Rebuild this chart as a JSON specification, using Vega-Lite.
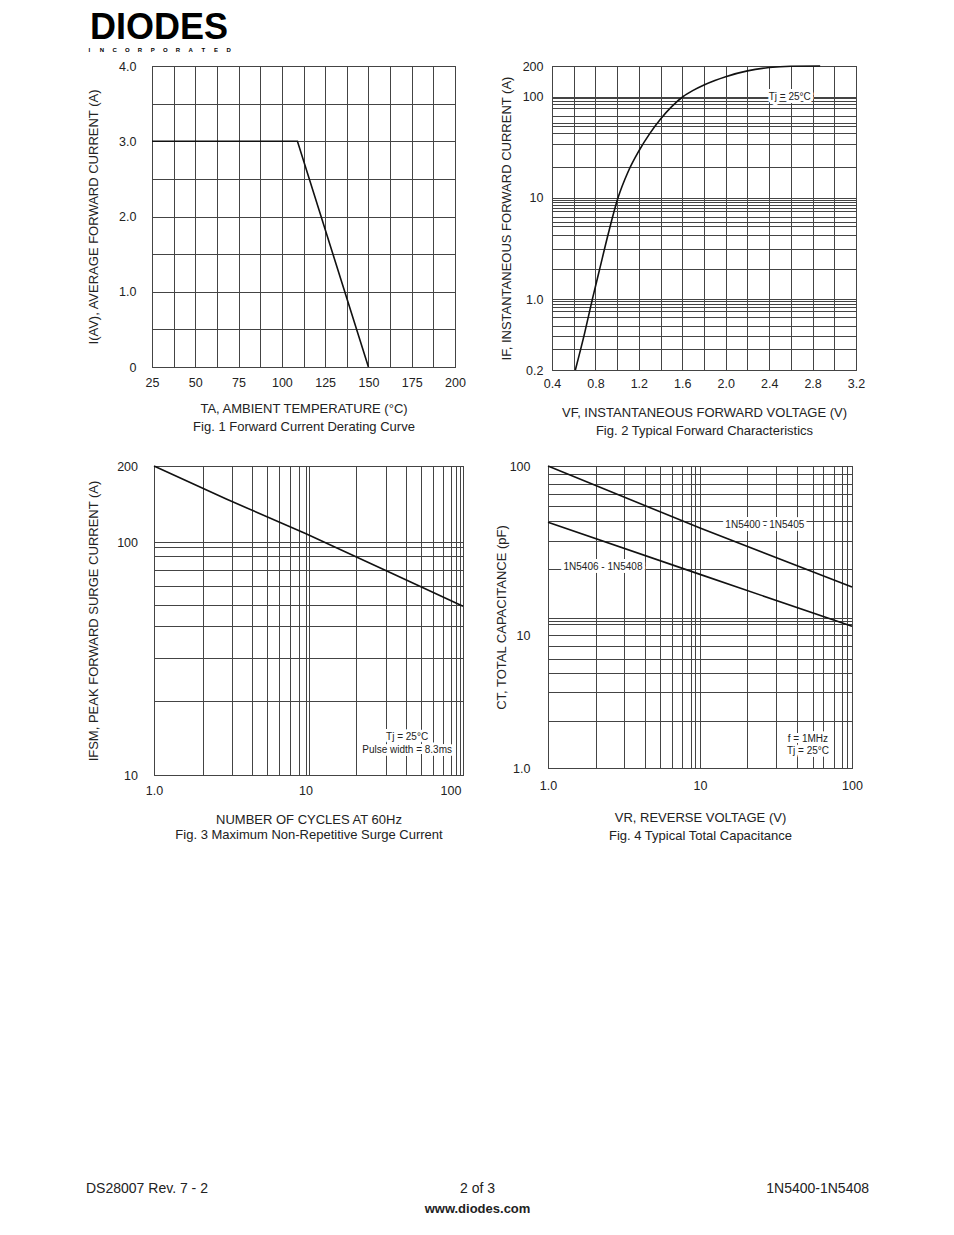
{
  "$schema": "https://vega.github.io/schema/vega-lite/v6.json",
  "padding": 0,
  "background": "white",
  "config": {
    "view": {"stroke": null},
    "font": "Liberation Sans",
    "text": {"font": "Liberation Sans"},
    "axis": {
      "domain": false,
      "ticks": false,
      "grid": true,
      "gridColor": "#444",
      "gridWidth": 1,
      "gridOpacity": 1,
      "labelFont": "Liberation Sans",
      "labelFontSize": 12.5,
      "labelColor": "#222",
      "labelFlush": false,
      "labelOverlap": false,
      "titleFont": "Liberation Sans",
      "titleFontSize": 13,
      "titleFontWeight": "normal",
      "titleColor": "#222"
    }
  },
  "datasets": {
    "header": [
      {"row": "logo", "k": 0, "text": "DIODES"},
      {"row": "sub", "k": 1, "text": "I"},
      {"row": "sub", "k": 2, "text": "N"},
      {"row": "sub", "k": 3, "text": "C"},
      {"row": "sub", "k": 4, "text": "O"},
      {"row": "sub", "k": 5, "text": "R"},
      {"row": "sub", "k": 6, "text": "P"},
      {"row": "sub", "k": 7, "text": "O"},
      {"row": "sub", "k": 8, "text": "R"},
      {"row": "sub", "k": 9, "text": "A"},
      {"row": "sub", "k": 10, "text": "T"},
      {"row": "sub", "k": 11, "text": "E"},
      {"row": "sub", "k": 12, "text": "D"}
    ],
    "footer": [
      {"pos": "left", "line": "1", "text": "DS28007 Rev. 7 - 2"},
      {"pos": "center", "line": "1", "text": "2 of 3"},
      {"pos": "right", "line": "1", "text": "1N5400-1N5408"},
      {"pos": "center", "line": "2", "text": "www.diodes.com"}
    ],
    "fig1": [
      {"temp": 25, "current": 3.0},
      {"temp": 109, "current": 3.0},
      {"temp": 150, "current": 0}
    ],
    "fig2": [
      {"vf": 0.615, "amp": 0.2},
      {"vf": 0.7, "amp": 0.46},
      {"vf": 0.772, "amp": 1.0},
      {"vf": 0.84, "amp": 2.0},
      {"vf": 0.92, "amp": 4.5},
      {"vf": 1.008, "amp": 10},
      {"vf": 1.1, "amp": 18},
      {"vf": 1.2, "amp": 29},
      {"vf": 1.3, "amp": 43},
      {"vf": 1.4, "amp": 60},
      {"vf": 1.5, "amp": 79},
      {"vf": 1.608, "amp": 100},
      {"vf": 1.7, "amp": 115},
      {"vf": 1.8, "amp": 130},
      {"vf": 1.9, "amp": 144},
      {"vf": 2.0, "amp": 157},
      {"vf": 2.2, "amp": 179},
      {"vf": 2.4, "amp": 193},
      {"vf": 2.6, "amp": 199},
      {"vf": 2.87, "amp": 200}
    ],
    "fig2_notes": [
      {"vf": 2.59, "amp": 100, "label": "Tj = 25°C"}
    ],
    "fig3": [
      {"cycles": 1, "amps": 200},
      {"cycles": 3, "amps": 148},
      {"cycles": 10, "amps": 108},
      {"cycles": 40, "amps": 73},
      {"cycles": 130, "amps": 53}
    ],
    "fig3_notes": [
      {"cycles": 50.2, "amps": 14.5, "label": "Tj = 25°C"},
      {"cycles": 50.2, "amps": 12.8, "label": "Pulse width = 8.3ms"}
    ],
    "fig4": [
      {"series": "1N5400 - 1N5405", "vr": 1, "ct": 100},
      {"series": "1N5400 - 1N5405", "vr": 10, "ct": 43},
      {"series": "1N5400 - 1N5405", "vr": 100, "ct": 19.3},
      {"series": "1N5406 - 1N5408", "vr": 1, "ct": 46.5},
      {"series": "1N5406 - 1N5408", "vr": 10, "ct": 22.9},
      {"series": "1N5406 - 1N5408", "vr": 100, "ct": 11.3}
    ],
    "fig4_notes": [
      {"vr": 26.7, "ct": 44.6, "label": "1N5400 - 1N5405"},
      {"vr": 2.3, "ct": 25.2, "label": "1N5406 - 1N5408"},
      {"vr": 51.3, "ct": 1.645, "label": "f = 1MHz"},
      {"vr": 51.3, "ct": 1.343, "label": "Tj = 25°C"}
    ]
  },
  "vconcat": [
    {
      "hconcat": [
        {"width": 86, "height": 59, "data": {"values": []}, "mark": {"type": "point", "opacity": 0}},
        {
          "width": 146,
          "height": 59,
          "data": {"name": "header"},
          "encoding": {
            "y": {"field": "row", "type": "nominal", "scale": {"type": "point", "domain": ["logo", "sub"], "padding": 0.811, "align": 0.767}, "axis": null}
          },
          "layer": [
            {
              "transform": [{"filter": "datum.row == 'logo'"}],
              "mark": {"type": "text", "fontSize": 36, "fontWeight": "bold", "color": "#000", "baseline": "middle", "align": "center"},
              "encoding": {"text": {"field": "text"}}
            },
            {
              "transform": [{"filter": "datum.row == 'sub'"}],
              "mark": {"type": "text", "fontSize": 6, "fontWeight": "bold", "color": "#000", "baseline": "middle", "align": "center"},
              "encoding": {
                "x": {"field": "k", "type": "ordinal", "scale": {"type": "point", "padding": 0.26}, "axis": null},
                "text": {"field": "text"}
              }
            }
          ]
        }
      ],
      "spacing": 0,
      "bounds": "flush"
    },
    {
      "hconcat": [
        {"width": 152, "height": 393, "data": {"values": []}, "mark": {"type": "point", "opacity": 0}},
        {
          "width": 303,
          "height": 301,
          "view": {"stroke": "#222", "strokeWidth": 1},
          "data": {"name": "fig1"},
          "mark": {"type": "line", "color": "#111", "strokeWidth": 1.6},
          "encoding": {
            "x": {
              "field": "temp", "type": "quantitative",
              "scale": {"domain": [25, 200], "nice": false, "zero": false},
              "axis": {
                "values": [25, 37.5, 50, 62.5, 75, 87.5, 100, 112.5, 125, 137.5, 150, 162.5, 175, 187.5, 200],
                "labelExpr": "datum.value % 25 == 0 ? format(datum.value, 'd') : ''",
                "labelPadding": 9,
                "title": ["TA, AMBIENT TEMPERATURE (°C)", "Fig. 1  Forward Current Derating Curve"],
                "titleLineHeight": 18,
                "titlePadding": 14
              }
            },
            "y": {
              "field": "current", "type": "quantitative",
              "scale": {"domain": [0, 4], "nice": false},
              "axis": {
                "values": [0, 0.5, 1, 1.5, 2, 2.5, 3, 3.5, 4],
                "labelExpr": "datum.value == 0 ? '0' : (datum.value % 1 == 0 ? format(datum.value, '.1f') : '')",
                "labelPadding": 16,
                "title": "I(AV), AVERAGE FORWARD CURRENT (A)",
                "titlePadding": 18
              }
            }
          }
        },
        {"width": 97, "height": 10, "data": {"values": []}, "mark": {"type": "point", "opacity": 0}},
        {
          "width": 304,
          "height": 304,
          "view": {"stroke": "#222", "strokeWidth": 1},
          "encoding": {
            "x": {
              "field": "vf", "type": "quantitative",
              "scale": {"domain": [0.4, 3.2], "nice": false, "zero": false},
              "axis": {
                "values": [0.4, 0.6, 0.8, 1.0, 1.2, 1.4, 1.6, 1.8, 2.0, 2.2, 2.4, 2.6, 2.8, 3.0, 3.2],
                "labelExpr": "round(datum.value * 10) % 4 == 0 ? format(datum.value, '.1f') : ''",
                "labelPadding": 7,
                "title": ["VF, INSTANTANEOUS FORWARD VOLTAGE (V)", "Fig. 2  Typical Forward Characteristics"],
                "titleLineHeight": 17.6,
                "titlePadding": 17
              }
            },
            "y": {
              "field": "amp", "type": "quantitative",
              "scale": {"type": "log", "domain": [0.2, 200], "nice": false},
              "axis": {
                "values": [0.2, 0.321, 0.435, 0.546, 0.66, 0.756, 0.839, 0.893, 0.949, 1, 2, 3.1, 4.29, 5.26, 5.8, 6.46, 7.4, 7.97, 8.47, 9.01, 9.49, 10, 20, 33.9, 43.2, 51.3, 54.2, 64.4, 76.2, 85.3, 90.5, 95.6, 100, 200],
                "labelExpr": "indexof([0.2, 1], datum.value) >= 0 ? format(datum.value, '.1f') : (indexof([10, 100, 200], datum.value) >= 0 ? format(datum.value, 'd') : '')",
                "labelPadding": 9,
                "title": "IF, INSTANTANEOUS FORWARD CURRENT (A)",
                "titlePadding": 9
              }
            }
          },
          "layer": [
            {
              "data": {"name": "fig2"},
              "mark": {"type": "line", "color": "#111", "strokeWidth": 1.6, "interpolate": "monotone"}
            },
            {
              "data": {"name": "fig2_notes"},
              "mark": {"type": "text", "fontSize": 10, "color": "white", "stroke": "white", "strokeWidth": 6, "strokeJoin": "round", "align": "center", "baseline": "middle"},
              "encoding": {"text": {"field": "label"}}
            },
            {
              "data": {"name": "fig2_notes"},
              "mark": {"type": "text", "fontSize": 10, "color": "#222", "align": "center", "baseline": "middle"},
              "encoding": {"text": {"field": "label"}}
            }
          ]
        }
      ],
      "spacing": 0,
      "bounds": "flush"
    },
    {
      "hconcat": [
        {"width": 154, "height": 706, "data": {"values": []}, "mark": {"type": "point", "opacity": 0}},
        {
          "width": 309,
          "height": 309,
          "view": {"stroke": "#222", "strokeWidth": 1},
          "encoding": {
            "x": {
              "field": "cycles", "type": "quantitative",
              "scale": {"type": "log", "domain": [1, 10, 100, 130], "range": [0, 151.5, 296.5, 309], "nice": false},
              "axis": {
                "values": [1, 2.09, 3.27, 4.46, 5.57, 6.69, 7.87, 9.06, 10, 10.6, 22.4, 35.7, 49.7, 63, 75.7, 88.8, 100, 113.2, 121.3, 130],
                "labelExpr": "datum.value == 1 ? '1.0' : (datum.value == 10 || datum.value == 100 ? format(datum.value, 'd') : '')",
                "labelPadding": 9.5,
                "title": ["NUMBER OF CYCLES AT 60Hz", "Fig. 3  Maximum Non-Repetitive Surge Current"],
                "titleLineHeight": 15,
                "titlePadding": 16
              }
            },
            "y": {
              "field": "amps", "type": "quantitative",
              "scale": {"type": "log", "domain": [10, 100, 200], "range": [309, 76, 0], "nice": false},
              "axis": {
                "values": [10, 20.7, 31.7, 43.4, 53.8, 64.7, 75.5, 87.1, 95.2, 100, 200],
                "labelExpr": "indexof([10, 100, 200], datum.value) >= 0 ? format(datum.value, 'd') : ''",
                "labelPadding": 16.5,
                "title": "IFSM, PEAK FORWARD SURGE CURRENT (A)",
                "titlePadding": 16
              }
            }
          },
          "layer": [
            {
              "data": {"name": "fig3"},
              "mark": {"type": "line", "color": "#111", "strokeWidth": 1.6}
            },
            {
              "data": {"name": "fig3_notes"},
              "mark": {"type": "text", "fontSize": 10, "color": "white", "stroke": "white", "strokeWidth": 6, "strokeJoin": "round", "align": "center", "baseline": "middle"},
              "encoding": {"text": {"field": "label"}}
            },
            {
              "data": {"name": "fig3_notes"},
              "mark": {"type": "text", "fontSize": 10, "color": "#222", "align": "center", "baseline": "middle"},
              "encoding": {"text": {"field": "label"}}
            }
          ]
        },
        {"width": 85, "height": 10, "data": {"values": []}, "mark": {"type": "point", "opacity": 0}},
        {
          "width": 304,
          "height": 302,
          "view": {"stroke": "#222", "strokeWidth": 1},
          "encoding": {
            "x": {
              "field": "vr", "type": "quantitative",
              "scale": {"type": "log", "domain": [1, 100], "nice": false},
              "axis": {
                "values": [1, 2.08, 3.16, 4.37, 5.43, 6.58, 7.66, 8.78, 9.33, 10, 20.4, 31.8, 43.5, 55.4, 64.5, 76.1, 86.5, 93.3, 100],
                "labelExpr": "datum.value == 1 ? '1.0' : (datum.value == 10 || datum.value == 100 ? format(datum.value, 'd') : '')",
                "labelPadding": 11,
                "title": ["VR, REVERSE VOLTAGE (V)", "Fig. 4  Typical Total Capacitance"],
                "titleLineHeight": 18,
                "titlePadding": 20
              }
            },
            "y": {
              "field": "ct", "type": "quantitative",
              "scale": {"type": "log", "domain": [1, 10, 100], "range": [302, 169.3, 0], "nice": false},
              "axis": {
                "values": [1, 2.26, 3.74, 5.23, 6.66, 8.26, 10, 11.7, 12.1, 12.7, 24.7, 36.2, 47.6, 58.4, 68.4, 78.5, 89.3, 100],
                "labelExpr": "datum.value == 1 ? '1.0' : (datum.value == 10 || datum.value == 100 ? format(datum.value, 'd') : '')",
                "labelPadding": 18,
                "title": "CT, TOTAL CAPACITANCE (pF)",
                "titlePadding": 1
              }
            }
          },
          "layer": [
            {
              "data": {"name": "fig4"},
              "mark": {"type": "line", "color": "#111", "strokeWidth": 1.6},
              "encoding": {"detail": {"field": "series", "type": "nominal"}}
            },
            {
              "data": {"name": "fig4_notes"},
              "mark": {"type": "text", "fontSize": 10, "color": "white", "stroke": "white", "strokeWidth": 6, "strokeJoin": "round", "align": "center", "baseline": "middle"},
              "encoding": {"text": {"field": "label"}}
            },
            {
              "data": {"name": "fig4_notes"},
              "mark": {"type": "text", "fontSize": 10, "color": "#222", "align": "center", "baseline": "middle"},
              "encoding": {"text": {"field": "label"}}
            }
          ]
        }
      ],
      "spacing": 0,
      "bounds": "flush"
    },
    {
      "hconcat": [
        {"width": 86, "height": 54, "data": {"values": []}, "mark": {"type": "point", "opacity": 0}},
        {
          "width": 783,
          "height": 54,
          "data": {"name": "footer"},
          "encoding": {
            "x": {"field": "pos", "type": "nominal", "scale": {"type": "point", "domain": ["left", "center", "right"], "padding": 0}, "axis": null},
            "y": {"field": "line", "type": "nominal", "scale": {"type": "point", "domain": ["1", "2"], "padding": 0.85, "align": 0.5}, "axis": null},
            "text": {"field": "text"}
          },
          "layer": [
            {
              "transform": [{"filter": "datum.pos == 'left'"}],
              "mark": {"type": "text", "fontSize": 14, "color": "#222", "align": "left", "baseline": "middle"}
            },
            {
              "transform": [{"filter": "datum.pos == 'center' && datum.line == '1'"}],
              "mark": {"type": "text", "fontSize": 14, "color": "#222", "align": "center", "baseline": "middle"}
            },
            {
              "transform": [{"filter": "datum.pos == 'right'"}],
              "mark": {"type": "text", "fontSize": 14, "color": "#222", "align": "right", "baseline": "middle"}
            },
            {
              "transform": [{"filter": "datum.line == '2'"}],
              "mark": {"type": "text", "fontSize": 13, "fontWeight": "bold", "color": "#222", "align": "center", "baseline": "middle"}
            }
          ]
        }
      ],
      "spacing": 0,
      "bounds": "flush"
    }
  ],
  "spacing": 0
}
